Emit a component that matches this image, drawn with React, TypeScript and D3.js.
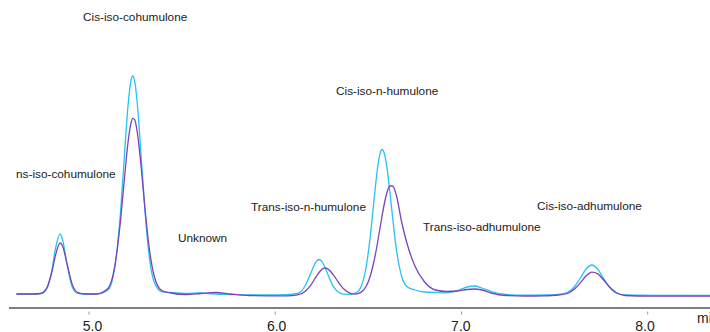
import React from "react";
import * as d3 from "d3";

const times = [4.61, 4.70, 4.74, 4.77, 4.80, 4.82, 4.845, 4.86, 4.88, 4.91, 4.94, 4.98, 5.04, 5.10, 5.14, 5.17, 5.19, 5.21, 5.225, 5.235, 5.245, 5.26, 5.28, 5.30, 5.32, 5.35, 5.39, 5.44, 5.52, 5.60, 5.68, 5.76, 5.86, 5.96, 6.06, 6.12, 6.16, 6.19, 6.22, 6.235, 6.25, 6.265, 6.28, 6.31, 6.34, 6.37, 6.40, 6.43, 6.46, 6.49, 6.51, 6.53, 6.55, 6.562, 6.574, 6.586, 6.60, 6.615, 6.63, 6.65, 6.68, 6.71, 6.75, 6.80, 6.86, 6.92, 6.98, 7.03, 7.07, 7.11, 7.16, 7.24, 7.34, 7.44, 7.52, 7.57, 7.61, 7.64, 7.67, 7.70, 7.73, 7.76, 7.79, 7.83, 7.88, 7.95, 8.05, 8.20, 8.34];

const sampleA = [3, 3, 3.3, 7.2, 26.3, 48.3, 63, 55.9, 34.9, 10.1, 3.7, 3, 3, 6.5, 31.3, 86.8, 140.9, 192.2, 216.1, 221, 216.1, 192.2, 140.9, 88, 46, 15, 5.5, 4.5, 3.5, 4, 3, 2.5, 2, 2, 2.3, 3.6, 11, 23.5, 35.4, 37.5, 35.6, 30.5, 23.7, 11.2, 4.8, 2.9, 2.7, 3.8, 10, 32, 60, 96, 129.8, 142.9, 147.5, 143.4, 129.1, 106.1, 80, 48.5, 20, 10, 7, 5, 4.5, 4.2, 6.5, 10, 11, 9, 5.5, 2.5, 1.8, 2, 2.7, 4.7, 11, 19.5, 28.2, 32, 28.2, 19.5, 11, 4, 2, 1.8, 1.6, 1.5, 1.5];

const sampleB = [3, 3, 3.5, 7.8, 24.5, 41.7, 54, 50.1, 34.8, 12.6, 4.4, 3, 3, 8.2, 32.7, 77.8, 118, 155.3, 173.6, 178.7, 177.4, 163.9, 130, 89.5, 54, 21, 6.5, 4, 2.5, 3.5, 4.5, 3, 1.5, 1.2, 1.2, 2.1, 5.5, 11.6, 20.4, 24.5, 27.5, 29, 28.3, 22.7, 14.5, 7.7, 3.9, 2.9, 4.6, 11.3, 20.8, 35.5, 55, 68.5, 81.5, 93.5, 104.5, 111, 111, 102, 74, 52, 31, 15.5, 7, 5.5, 6, 7.5, 8, 7, 4, 1.5, 1.0, 1.2, 2, 3.5, 8.4, 14.6, 21.2, 24.9, 23.4, 17.8, 11, 4.5, 1.5, 1.0, 0.9, 0.8, 0.8];

const tickValues = [5.0, 6.0, 7.0, 8.0];
const tickLabels = ["5.0", "6.0", "7.0", "8.0"];
const axisTitle = "min";

const peakNames = ["Cis-iso-cohumulone", "ns-iso-cohumulone", "Unknown", "Trans-iso-n-humulone", "Cis-iso-n-humulone", "Trans-iso-adhumulone", "Cis-iso-adhumulone"];
const labelX = [83, 16, 178, 251, 336, 423, 537];
const labelY = [21, 178, 242, 211, 95, 231, 210];

const W = 710;
const H = 332;

export default function App() {
  const x = d3.scaleLinear().domain([5, 8]).range([89, 647.7]);
  const xLabel = d3.scaleLinear().domain([5, 8]).range([92.5, 645]);
  const y = d3.scaleLinear().domain([0, 230]).range([297, 67]);

  const line = d3
    .line<number>()
    .x((_, i) => x(times[i]))
    .y((v) => y(v))
    .curve(d3.curveMonotoneX);

  return (
    <svg
      width={W}
      height={H}
      style={{ position: "absolute", left: 0, top: 0, background: "#fff" }}
      fontFamily="'Liberation Sans', Arial, sans-serif"
    >
      <path d={line(sampleA) || ""} fill="none" stroke="#25c3f2" strokeWidth={1.3} />
      <path d={line(sampleB) || ""} fill="none" stroke="#7b43b9" strokeWidth={1.3} />

      <line x1={9} x2={W} y1={308} y2={308} stroke="#555" strokeWidth={1.3} />
      {tickValues.map((t, i) => (
        <g key={i}>
          <line x1={x(t)} x2={x(t)} y1={311.5} y2={314.5} stroke="#999" strokeWidth={1} />
          <text x={xLabel(t)} y={331} fontSize={14} textAnchor="middle" fill="#222">
            {tickLabels[i]}
          </text>
        </g>
      ))}
      <text x={697} y={323} fontSize={14} fill="#222">
        {axisTitle}
      </text>

      {peakNames.map((n, i) => (
        <text key={n} x={labelX[i]} y={labelY[i]} fontSize={11.8} fill="#222">
          {n}
        </text>
      ))}
    </svg>
  );
}
